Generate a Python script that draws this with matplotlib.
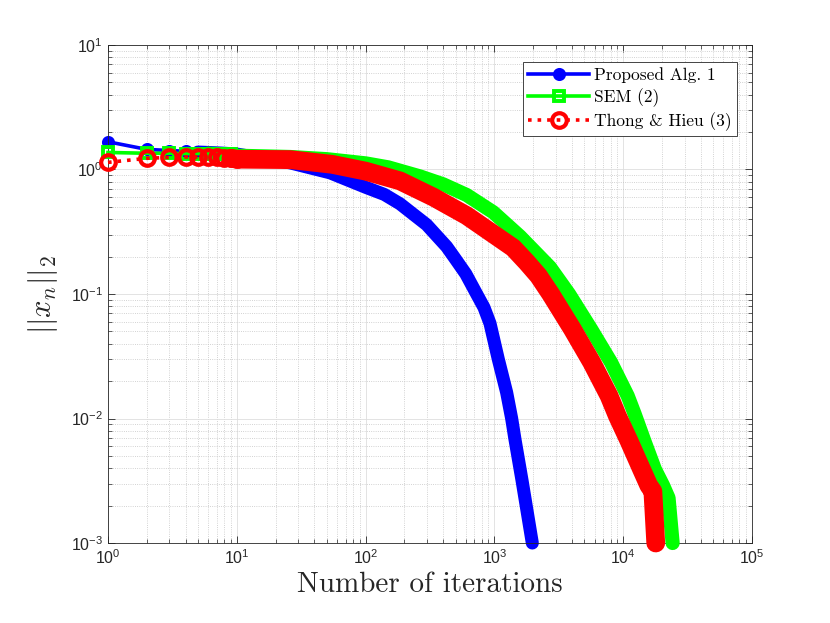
import numpy as np
import matplotlib
matplotlib.use("Agg")
import matplotlib.pyplot as plt
from matplotlib.ticker import LogLocator

plt.rcParams["font.family"] = "Liberation Sans"
plt.rcParams["mathtext.fontset"] = "cm"

# values (iteration, ||x_n||_2)
blue_iter = [1, 2, 3, 4, 5, 6, 7, 8, 9, 10, 26, 53, 100, 140, 185, 298, 426,
             500, 600, 736, 830, 925, 1072, 1245, 1362, 1445, 1638, 1970]
blue_norm = [1.67, 1.45, 1.42, 1.40, 1.38, 1.37, 1.36, 1.35, 1.34, 1.33, 1.13,
             0.94, 0.72, 0.63, 0.53, 0.36, 0.24, 0.19, 0.145, 0.098, 0.078,
             0.058, 0.030, 0.0162, 0.010, 0.0068, 0.0032, 0.001]

green_iter = [1, 2, 3, 4, 5, 6, 7, 8, 9, 10, 26, 50, 100, 150, 264, 400, 609,
              981, 1581, 2703, 3800, 5630, 8040, 10840, 12300, 14600, 17650,
              20400, 22500, 24200]
green_norm = [1.37, 1.35, 1.35, 1.34, 1.34, 1.34, 1.33, 1.33, 1.32, 1.29, 1.26,
              1.21, 1.12, 1.04, 0.88, 0.76, 0.624, 0.453, 0.29, 0.164, 0.10,
              0.0523, 0.0283, 0.0152, 0.0108, 0.0066, 0.0039, 0.0029, 0.0023,
              0.001]

red_iter = [1, 2, 3, 4, 5, 6, 7, 8, 9, 10, 26, 55, 100, 185, 336, 609, 981,
            1400, 1782, 2200, 2735, 4030, 5690, 7770, 9010, 11100, 13900,
            15800, 17000, 17900]
red_norm = [1.14, 1.23, 1.25, 1.26, 1.26, 1.25, 1.25, 1.24, 1.23, 1.21, 1.20,
            1.10, 0.97, 0.81, 0.60, 0.426, 0.303, 0.235, 0.18, 0.14, 0.10,
            0.0523, 0.0283, 0.0152, 0.0105, 0.0066, 0.0039, 0.0029, 0.0026,
            0.001]

labels = ["Proposed Alg. 1", "SEM (2)", "Thong & Hieu (3)"]

fig = plt.figure(figsize=(8.3, 6.23), dpi=100, facecolor="white")
ax = fig.add_axes([0.1301, 0.1284, 0.7759, 0.7994])

series = [
    # iters, norms, color, linestyle, marker, ms, mew, filled, band start
    (blue_iter, blue_norm, (0, 0, 1), "-", "o", 7.0, 2.4, True, 4),
    (green_iter, green_norm, (0, 1, 0), "-", "s", 7.4, 2.8, False, 5),
    (red_iter, red_norm, (1, 0, 0), ":", "o", 10.5, 3.0, False, 8),
]

for k, (it, nv, col, ls, mk, ms, mew, filled, b0) in enumerate(series):
    z = 2 + k
    ax.plot(it, nv, color=col, ls=ls, lw=2.6, marker=mk, ms=ms, mew=mew,
            mfc=col if filled else "none", mec=col, markevery=slice(0, 10),
            label=labels[k], clip_on=False, zorder=z)
    # every iteration carries a marker in the original, so the tail is a band
    ax.plot(it[b0:], nv[b0:], color=col, ls="-", lw=ms + mew,
            solid_capstyle="round", solid_joinstyle="round",
            clip_on=False, zorder=z + 0.5)

ax.set_xscale("log")
ax.set_yscale("log")
ax.set_xlim(1, 1e5)
ax.set_ylim(1e-3, 1e1)

ax.xaxis.set_major_locator(LogLocator(base=10, numticks=20))
ax.yaxis.set_major_locator(LogLocator(base=10, numticks=20))
ax.xaxis.set_minor_locator(LogLocator(base=10, subs=np.arange(2, 10), numticks=100))
ax.yaxis.set_minor_locator(LogLocator(base=10, subs=np.arange(2, 10), numticks=100))

ax.grid(True, which="major", color="#dedede", lw=0.6, ls="-")
ax.grid(True, which="minor", color="#c4c4c4", lw=0.6, ls=":")
ax.set_axisbelow(True)

ax.tick_params(which="both", direction="in", top=True, right=True,
               colors="#262626", labelsize=11.5)
ax.tick_params(which="major", length=5, width=0.6)
ax.tick_params(which="minor", length=3, width=0.5)
for sp in ax.spines.values():
    sp.set_color("#262626")
    sp.set_linewidth(0.6)

ax.set_xlabel("Number of iterations", fontfamily="cmr10", fontsize=21,
              color="#262626", labelpad=4)
ax.set_ylabel(r"$||x_n||_2$", fontsize=22, color="#262626", labelpad=8)

leg = ax.legend(loc="upper right", bbox_to_anchor=(0.977, 0.966),
                borderaxespad=0, prop={"family": "cmr10", "size": 12.5},
                handlelength=3.5, handletextpad=0.3, borderpad=0.3,
                labelspacing=0.3, fancybox=False, framealpha=1,
                edgecolor="#262626")
leg.get_frame().set_linewidth(0.6)

fig.savefig("out.png", dpi=100, facecolor="white")
